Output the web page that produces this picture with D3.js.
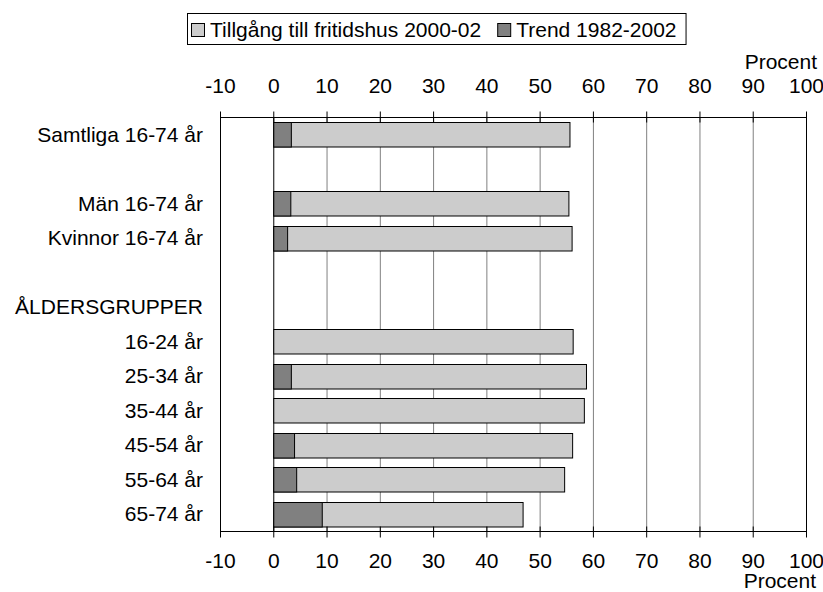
<!DOCTYPE html>
<html><head><meta charset="utf-8">
<script src="https://cdn.jsdelivr.net/npm/d3@7"></script>
<style>body{margin:0;background:#fff;} svg{display:block;font-family:Arial,"Liberation Sans",sans-serif;}</style>
</head><body>
<script>
const categories = ["Samtliga 16-74 år", "", "Män 16-74 år", "Kvinnor 16-74 år", "", "ÅLDERSGRUPPER", "16-24 år", "25-34 år", "35-44 år", "45-54 år", "55-64 år", "65-74 år"];
const tillgang = [55.6, null, 55.4, 56.0, null, null, 56.2, 58.7, 58.3, 56.1, 54.6, 46.8];
const trend = [3.3, null, 3.2, 2.6, null, null, 0, 3.3, 0, 3.9, 4.3, 9.1];
const tickValues = [-10, 0, 10, 20, 30, 40, 50, 60, 70, 80, 90, 100];
const seriesNames = ["Tillgång till fritidshus 2000-02", "Trend 1982-2002"];
const axisTitle = "Procent";

(function () {
const W = 823, H = 592;
const svg = d3.select("body").append("svg").attr("width", W).attr("height", H);
const fs = 21;

const x = d3.scaleLinear().domain([-10, 100]).range([220, 806]);
const plotTop = 117, plotBottom = 531;
const y = d3.scaleBand().domain(d3.range(categories.length)).range([plotTop, plotBottom]).paddingInner(0.29).paddingOuter(0.145);

// gridlines
svg.append("g").selectAll("line").data(tickValues).join("line")
  .attr("x1", d => x(d) + 0.5).attr("x2", d => x(d) + 0.5)
  .attr("y1", plotTop).attr("y2", plotBottom)
  .attr("stroke", d => (d === -10 || d === 0 || d === 100) ? "#000" : "#808080")
  .attr("stroke-width", 1);

// bars
const rows = categories.map((c, i) => ({c, i, v: tillgang[i], t: trend[i]}));
svg.append("g").selectAll("rect").data(rows.filter(r => r.v != null)).join("rect")
  .attr("x", x(0) + 0.5).attr("y", r => Math.round(y(r.i)) + 0.5)
  .attr("width", r => x(r.v) - x(0)).attr("height", y.bandwidth())
  .attr("fill", "#cccccc").attr("stroke", "#000").attr("stroke-width", 1);
svg.append("g").selectAll("rect").data(rows.filter(r => r.t)).join("rect")
  .attr("x", x(0) + 0.5).attr("y", r => Math.round(y(r.i)) + 0.5)
  .attr("width", r => x(r.t) - x(0)).attr("height", y.bandwidth())
  .attr("fill", "#808080").attr("stroke", "#000").attr("stroke-width", 1);

// axes
const gTop = svg.append("g").attr("transform", `translate(0.5,${plotTop + 0.5})`);
gTop.append("line").attr("x1", x(-10)).attr("x2", x(100)).attr("stroke", "#000");
gTop.selectAll(".tk").data(tickValues).join("line").attr("class", "tk").attr("x1", d => x(d)).attr("x2", d => x(d)).attr("y1", -6).attr("y2", 5).attr("stroke", "#000");
gTop.selectAll(".lb").data(tickValues).join("text").attr("class", "lb").attr("x", d => x(d)).attr("y", -25).attr("text-anchor", "middle").attr("font-size", fs).text(d => d);

const gBot = svg.append("g").attr("transform", `translate(0.5,${plotBottom + 0.5})`);
gBot.append("line").attr("x1", x(-10)).attr("x2", x(100)).attr("stroke", "#000");
gBot.selectAll(".tk").data(tickValues).join("line").attr("class", "tk").attr("x1", d => x(d)).attr("x2", d => x(d)).attr("y1", -5).attr("y2", 6).attr("stroke", "#000");
gBot.selectAll(".lb").data(tickValues).join("text").attr("class", "lb").attr("x", d => x(d)).attr("y", 36).attr("text-anchor", "middle").attr("font-size", fs).text(d => d);

svg.append("text").attr("x", 817).attr("y", 69).attr("text-anchor", "end").attr("font-size", fs).text(axisTitle);
svg.append("text").attr("x", 816).attr("y", 588).attr("text-anchor", "end").attr("font-size", fs).text(axisTitle);

// category labels
svg.append("g").selectAll("text").data(rows).join("text")
  .attr("x", 203).attr("y", r => y(r.i) + y.bandwidth() / 2 + 7.5)
  .attr("text-anchor", "end").attr("font-size", fs).text(r => r.c);

// legend
const lg = svg.append("g");
const box = lg.append("rect").attr("x", 187.5).attr("y", 13.5).attr("height", 31).attr("fill", "#fff").attr("stroke", "#000");
let cx = 191;
seriesNames.forEach((n, k) => {
  lg.append("rect").attr("x", cx + 0.5).attr("y", 23.5).attr("width", 13).attr("height", 13).attr("fill", k === 0 ? "#cccccc" : "#808080").attr("stroke", "#000");
  const t = lg.append("text").attr("x", cx + 19).attr("y", 37).attr("font-size", fs).text(n);
  cx = cx + 19 + t.node().getComputedTextLength() + 16;
});
box.attr("width", cx - 16 + 9 - 187);
})();
</script>
</body></html>
